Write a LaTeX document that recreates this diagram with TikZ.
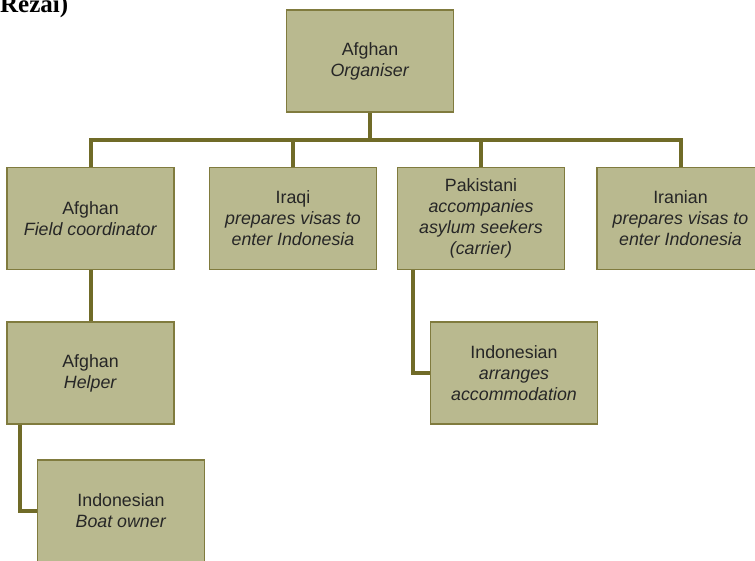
\documentclass[tikz,border=0pt]{standalone}
\usepackage{fontspec}
\setmainfont{Liberation Sans}
\newfontfamily\captionserif{Liberation Serif}
\definecolor{smgfill}{RGB}{185,185,143}
\definecolor{smgedge}{RGB}{128,123,62}
\definecolor{smgline}{RGB}{112,107,40}
\definecolor{smgtext}{RGB}{38,38,38}
\usetikzlibrary{positioning,calc}
\tikzset{
  role/.style={rectangle,draw=smgedge,fill=smgfill,line width=1.2pt,
               minimum width=167pt,minimum height=102pt,inner sep=0pt,
               text=smgtext,align=center,
               font=\fontsize{17.8}{21}\selectfont},
  link/.style={line width=4pt,smgline,line join=miter},
}
\newcommand{\task}[1]{\textit{#1}}

\begin{document}
\begin{tikzpicture}[x=1pt,y=-1pt]
    \useasboundingbox (0,0) rectangle (755,561);
    \node[anchor=base west,inner sep=0pt,
          font=\captionserif\bfseries\fontsize{25}{28}\selectfont] (head) at (0,13) {Rezai)};
    % top of the network
    \node[role] (org) at (370,61) {Afghan\\\task{Organiser}};
    % second level
    \node[role] (field) at (90.5,218.5) {Afghan\\\task{Field coordinator}};
    \node[role] (iraqi) at (293,218.5) {Iraqi\\\task{prepares visas to}\\\task{enter Indonesia}};
    \node[role] (pak) at (481,218.5) {Pakistani\\\task{accompanies}\\\task{asylum seekers}\\\task{(carrier)}};
    \node[role] (iran) at (680.5,218.5) {Iranian\\\task{prepares visas to}\\\task{enter Indonesia}};
    % lower levels
    \node[role] (helper) at (90.5,373) {Afghan\\\task{Helper}};
    \node[role] (boat) at (121,511) {Indonesian\\\task{Boat owner}};
    \node[role] (accom) at (514,373) {Indonesian\\\task{arranges}\\\task{accommodation}};
    % connectors
    \coordinate (bar) at (370,140);
    \begin{scope}[on background layer/.try]
      \draw[link] (org.south) -- (bar);
      \draw[link] (field.north) |- (iran.north |- bar) -- (iran.north);
      \draw[link] (iraqi.north) -- (iraqi.north |- bar);
      \draw[link] (pak.north) -- (pak.north |- bar);
      \draw[link] (field.south) -- (helper.north);
      \draw[link] ([xshift=14pt]helper.south west) |- (boat.west);
      \draw[link] ([xshift=16pt]pak.south west) |- (accom.west);
    \end{scope}
  \end{tikzpicture}
\end{document}
